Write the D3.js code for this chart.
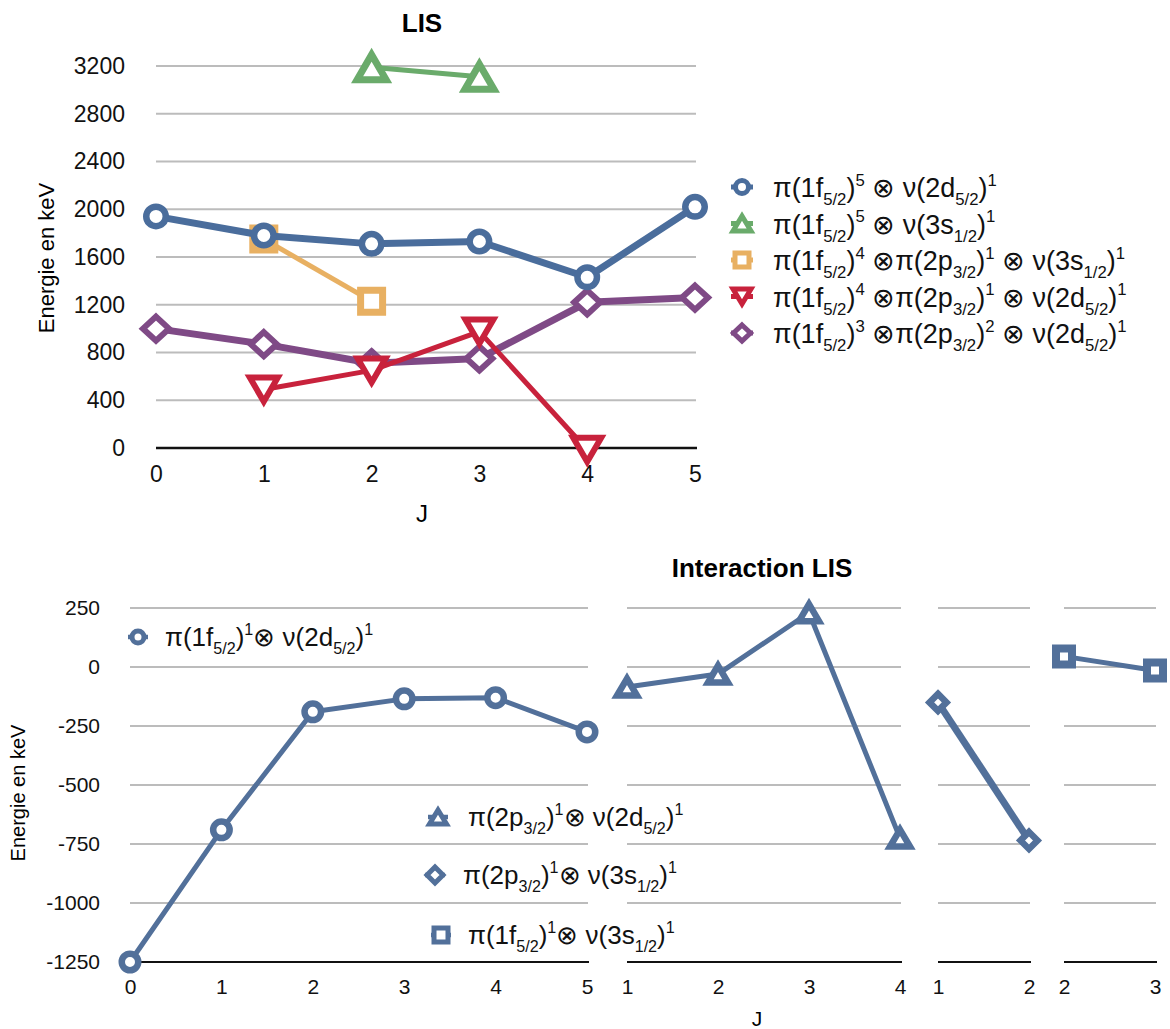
<!DOCTYPE html>
<html><head><meta charset="utf-8">
<script src="https://cdn.jsdelivr.net/npm/d3@7"></script>
<style>
html,body{margin:0;padding:0;background:#fff;}
svg{display:block;font-family:"Liberation Sans",Arial,Helvetica,sans-serif;}
</style></head>
<body>
<svg id="c" width="1170" height="1029"></svg>
<script>
// ---------- DATA ----------
// Top chart "LIS"
const topTicksY = [0, 400, 800, 1200, 1600, 2000, 2400, 2800, 3200];
const topTicksX = [0, 1, 2, 3, 4, 5];
const s1J = [0, 1, 2, 3, 4, 5], s1 = [1940, 1780, 1710, 1730, 1430, 2020];
const s2J = [2, 3],             s2 = [3190, 3110];
const s3J = [1, 2],             s3 = [1750, 1230];
const s4J = [1, 2, 3, 4],       s4 = [490, 650, 975, -15];
const s5J = [0, 1, 2, 3, 4, 5], s5 = [1000, 870, 710, 750, 1220, 1260];
const topLabels = [
  [["π(1f",""],["5/2","sub"],[")",""],["5","sup"],[" ⊗ ν(2d",""],["5/2","sub"],[")",""],["1","sup"]],
  [["π(1f",""],["5/2","sub"],[")",""],["5","sup"],[" ⊗ ν(3s",""],["1/2","sub"],[")",""],["1","sup"]],
  [["π(1f",""],["5/2","sub"],[")",""],["4","sup"],[" ⊗π(2p",""],["3/2","sub"],[")",""],["1","sup"],[" ⊗ ν(3s",""],["1/2","sub"],[")",""],["1","sup"]],
  [["π(1f",""],["5/2","sub"],[")",""],["4","sup"],[" ⊗π(2p",""],["3/2","sub"],[")",""],["1","sup"],[" ⊗ ν(2d",""],["5/2","sub"],[")",""],["1","sup"]],
  [["π(1f",""],["5/2","sub"],[")",""],["3","sup"],[" ⊗π(2p",""],["3/2","sub"],[")",""],["2","sup"],[" ⊗ ν(2d",""],["5/2","sub"],[")",""],["1","sup"]]
];
// Bottom chart "Interaction LIS"
const botTicksY = [250, 0, -250, -500, -750, -1000, -1250];
const p1J = [0, 1, 2, 3, 4, 5], p1 = [-1250, -690, -190, -135, -130, -275];
const p2J = [1, 2, 3, 4],       p2 = [-85, -30, 230, -725];
const p3J = [1, 2],             p3 = [-150, -735];
const p4J = [2, 3],             p4 = [45, -15];
const botLabels = [
  [["π(1f",""],["5/2","sub"],[")",""],["1","sup"],["⊗ ν(2d",""],["5/2","sub"],[")",""],["1","sup"]],
  [["π(2p",""],["3/2","sub"],[")",""],["1","sup"],["⊗ ν(2d",""],["5/2","sub"],[")",""],["1","sup"]],
  [["π(2p",""],["3/2","sub"],[")",""],["1","sup"],["⊗ ν(3s",""],["1/2","sub"],[")",""],["1","sup"]],
  [["π(1f",""],["5/2","sub"],[")",""],["1","sup"],["⊗ ν(3s",""],["1/2","sub"],[")",""],["1","sup"]]
];

// ---------- HELPERS ----------
const svg = d3.select("#c");
const GRID = "#bcbcbc";
const fmt = d => String(d);

function markerPath(type, w, h) {
  switch (type) {
    case "circle": return `M${w},0A${w},${w} 0 1,1 ${-w},0A${w},${w} 0 1,1 ${w},0Z`;
    case "square": return `M${-w},${-h}H${w}V${h}H${-w}Z`;
    case "up": return `M0,${-h}L${w},${h}L${-w},${h}Z`;
    case "down": return `M0,${h}L${w},${-h}L${-w},${-h}Z`;
    case "diamond": return `M0,${-h}L${w},0L0,${h}L${-w},0Z`;
  }
}

function rich(textSel, parts, size) {
  let cur = 0;
  parts.forEach(([t, k]) => {
    const target = k === "sub" ? size * 0.30 : k === "sup" ? -size * 0.42 : 0;
    textSel.append("tspan")
      .attr("dy", (target - cur).toFixed(2))
      .attr("font-size", k ? size * 0.62 : size)
      .text(t);
    cur = target;
  });
}

function drawSeries(g, xs, ys, J, V, color, lw, type, mw, mh, msw) {
  const pts = J.map((j, i) => [xs(j), ys(V[i])]);
  g.append("path").attr("d", d3.line()(pts))
    .attr("fill", "none").attr("stroke", color).attr("stroke-width", lw)
    .attr("stroke-linejoin", "round");
  g.selectAll(null).data(pts).enter().append("path")
    .attr("transform", d => `translate(${d[0]},${d[1]})`)
    .attr("d", markerPath(type, mw, mh))
    .attr("fill", "#fff").attr("stroke", color).attr("stroke-width", msw)
    .attr("stroke-linejoin", "miter");
}

// ---------- TOP CHART ----------
const tx = d3.scaleLinear().domain([0, 5]).range([156, 695]);
const ty = d3.scaleLinear().domain([0, 3200]).range([448, 66]);
const gt = svg.append("g");

gt.selectAll(null).data(topTicksY.filter(d => d !== 0)).enter().append("line")
  .attr("x1", tx(0)).attr("x2", tx(5) + 1).attr("y1", d => ty(d)).attr("y2", d => ty(d))
  .attr("stroke", GRID).attr("stroke-width", 2);
gt.append("line").attr("x1", tx(0)).attr("x2", tx(5) + 2).attr("y1", ty(0)).attr("y2", ty(0))
  .attr("stroke", "#111").attr("stroke-width", 2.5);

const tyAxis = gt.append("g").attr("transform", "translate(125,0)")
  .call(d3.axisLeft(ty).tickValues(topTicksY).tickSize(0).tickPadding(0).tickFormat(fmt));
tyAxis.select(".domain").remove();
tyAxis.selectAll("text").attr("font-size", 23).attr("fill", "#111").attr("font-family", null);

const txAxis = gt.append("g").attr("transform", "translate(0,466)")
  .call(d3.axisBottom(tx).tickValues(topTicksX).tickSize(0).tickPadding(0).tickFormat(fmt));
txAxis.select(".domain").remove();
txAxis.selectAll("text").attr("font-size", 23).attr("fill", "#111").attr("font-family", null);

gt.append("text").attr("x", 422).attr("y", 32).attr("text-anchor", "middle")
  .attr("font-size", 26).attr("font-weight", "bold").text("LIS");
gt.append("text").attr("x", 422).attr("y", 522).attr("text-anchor", "middle")
  .attr("font-size", 24).text("J");
gt.append("text").attr("transform", "translate(54,258) rotate(-90)").attr("text-anchor", "middle")
  .attr("font-size", 22).text("Energie en keV");

const C_BLUE = "#4a6d9c", C_GREEN = "#6aab6b", C_ORANGE = "#e8b062", C_RED = "#c8223c", C_PURPLE = "#7f4a86";
drawSeries(gt, tx, ty, s5J, s5, C_PURPLE, 7, "diamond", 13, 12, 6);
drawSeries(gt, tx, ty, s3J, s3, C_ORANGE, 5, "square", 11, 11, 7);
drawSeries(gt, tx, ty, s1J, s1, C_BLUE, 7, "circle", 9.75, 9.75, 6.5);
drawSeries(gt, tx, ty, s4J, s4, C_RED, 5, "down", 14, 12, 6);
drawSeries(gt, tx, ty, s2J, s2, C_GREEN, 5, "up", 14.5, 12.5, 7);

// Top legend
const topLegend = [
  [C_BLUE, "circle", 6.5, 6.5], [C_GREEN, "up", 9, 7.5], [C_ORANGE, "square", 7, 7],
  [C_RED, "down", 9, 7.5], [C_PURPLE, "diamond", 8.5, 8]
];
topLegend.forEach(([col, type, w, h], i) => {
  const y = 187 + i * 36.5;
  const g = gt.append("g").attr("transform", `translate(742,${y})`);
  g.append("line").attr("x1", -11).attr("x2", 11).attr("stroke", col).attr("stroke-width", 5);
  g.append("path").attr("d", markerPath(type, w, h)).attr("fill", "#fff")
    .attr("stroke", col).attr("stroke-width", 5);
  const t = gt.append("text").attr("x", 773).attr("y", y + 10).attr("fill", "#111");
  rich(t, topLabels[i], 27);
});

// ---------- BOTTOM CHART ----------
const by = d3.scaleLinear().domain([-1250, 250]).range([962, 608]);
const panels = [
  { dom: [0, 5], rng: [130, 587], J: p1J, V: p1, type: "circle", w: 8.25, h: 8.25, sw: 6.5, lw: 5 },
  { dom: [1, 4], rng: [627, 900], J: p2J, V: p2, type: "up", w: 10, h: 8.5, sw: 6.5, lw: 5 },
  { dom: [1, 2], rng: [938, 1029], J: p3J, V: p3, type: "diamond", w: 8.5, h: 8.5, sw: 6.5, lw: 7 },
  { dom: [2, 3], rng: [1064, 1155], J: p4J, V: p4, type: "square", w: 8, h: 8, sw: 8, lw: 5 }
];
const C_B = "#52709a";
const gb = svg.append("g");
panels.forEach(p => {
  const xs = d3.scaleLinear().domain(p.dom).range(p.rng);
  gb.selectAll(null).data(botTicksY.filter(d => d !== -1250)).enter().append("line")
    .attr("x1", p.rng[0]).attr("x2", p.rng[1] + 1).attr("y1", d => by(d)).attr("y2", d => by(d))
    .attr("stroke", GRID).attr("stroke-width", 2);
  gb.append("line").attr("x1", p.rng[0]).attr("x2", p.rng[1] + 2).attr("y1", by(-1250)).attr("y2", by(-1250))
    .attr("stroke", "#111").attr("stroke-width", 2);
  const ax = gb.append("g").attr("transform", "translate(0,979)")
    .call(d3.axisBottom(xs).tickValues(d3.range(p.dom[0], p.dom[1] + 1)).tickSize(0).tickPadding(0).tickFormat(fmt));
  ax.select(".domain").remove();
  ax.selectAll("text").attr("font-size", 21).attr("fill", "#111").attr("font-family", null);
  p.xs = xs;
});

const byAxis = gb.append("g").attr("transform", "translate(100,0)")
  .call(d3.axisLeft(by).tickValues(botTicksY).tickSize(0).tickPadding(0).tickFormat(fmt));
byAxis.select(".domain").remove();
byAxis.selectAll("text").attr("font-size", 21).attr("fill", "#111").attr("font-family", null);

gb.append("text").attr("x", 762).attr("y", 577).attr("text-anchor", "middle")
  .attr("font-size", 26).attr("font-weight", "bold").text("Interaction LIS");
gb.append("text").attr("x", 757).attr("y", 1026).attr("text-anchor", "middle")
  .attr("font-size", 21).text("J");
gb.append("text").attr("transform", "translate(25,793) rotate(-90)").attr("text-anchor", "middle")
  .attr("font-size", 20).text("Energie en keV");

panels.forEach(p => drawSeries(gb, p.xs, by, p.J, p.V, C_B, p.lw, p.type, p.w, p.h, p.sw));

// Bottom legends
const botLegend = [
  { x: 138, y: 637, tx: 165, type: "circle", w: 6, h: 6 },
  { x: 438, y: 817, tx: 468, type: "up", w: 8.5, h: 7 },
  { x: 435, y: 875, tx: 463, type: "diamond", w: 8, h: 8 },
  { x: 441, y: 935, tx: 468, type: "square", w: 7, h: 7 }
];
botLegend.forEach((l, i) => {
  const g = gb.append("g").attr("transform", `translate(${l.x},${l.y})`);
  g.append("line").attr("x1", -10).attr("x2", 10).attr("stroke", C_B).attr("stroke-width", 4.5);
  g.append("path").attr("d", markerPath(l.type, l.w, l.h)).attr("fill", "#fff")
    .attr("stroke", C_B).attr("stroke-width", 5);
  const t = gb.append("text").attr("x", l.tx).attr("y", l.y + 9).attr("fill", "#111");
  rich(t, botLabels[i], 26);
});
</script>
</body></html>
